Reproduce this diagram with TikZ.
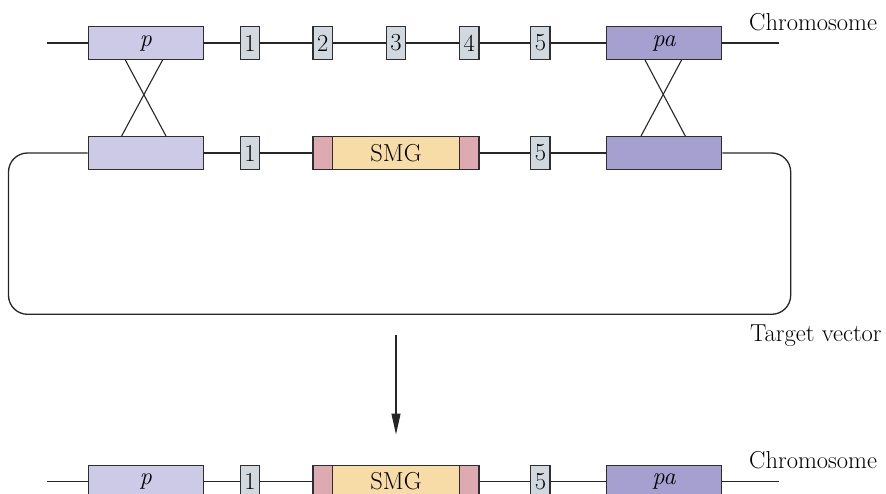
\documentclass[tikz,border=0pt]{standalone}
\usetikzlibrary{calc,arrows.meta}
\definecolor{plight}{HTML}{CCCAE6}
\definecolor{pdark}{HTML}{A6A0D0}
\definecolor{exonc}{HTML}{D1D9DF}
\definecolor{smgc}{HTML}{F7DCA7}
\definecolor{pinkc}{HTML}{DEAAB2}
\definecolor{edgec}{HTML}{2E2E2E}
\begin{document}
\begin{tikzpicture}[x=1pt,y=-1pt,
  every node/.style={font=\fontsize{24.5}{28}\selectfont},
  boxbase/.style={draw=edgec,line width=1.4pt,inner sep=0pt,minimum height=32.5pt},
  plbox/.style={boxbase,fill=plight,minimum width=115pt},
  pdbox/.style={boxbase,fill=pdark,minimum width=115pt},
  exonbox/.style={boxbase,fill=exonc,minimum width=19.5pt},
  smgbox/.style={boxbase,fill=smgc,minimum width=126.6pt},
  pinkbox/.style={boxbase,fill=pinkc,minimum width=19.8pt},
  dna/.style={draw=black!85,line width=1.3pt},
  cross/.style={draw=black!85,line width=1.1pt},
  lbl/.style={anchor=base west,inner sep=0pt}
]
\useasboundingbox (0,0) rectangle (886,494);
\clip (0,0) rectangle (886,494);

% ---------- top chromosome ----------
\coordinate (t0) at (47,43);
\coordinate (t9) at (779,43);
\node[plbox] (p1) at (145.8,43) {\textit{p}};
\node[exonbox] (e1) at (250,43) {1};
\node[exonbox] (e2) at (322.7,43) {2};
\node[exonbox] (e3) at (396,43) {3};
\node[exonbox] (e4) at (469.2,43) {4};
\node[exonbox] (e5) at (540.4,43) {5};
\node[pdbox] (pa1) at (664.2,43) {\textit{pa}};
\draw[dna] (t0) -- (p1) -- (e1) -- (e2) -- (e3) -- (e4) -- (e5) -- (pa1) -- (t9);
\node[lbl] (chr1) at (749,31) {Chromosome};

% ---------- target vector ----------
\node[plbox] (p2) at (145.8,153) {};
\node[exonbox] (v1) at (250,153) {1};
\node[pinkbox] (vk1) at (322.7,153) {};
\node[smgbox] (vs) at (396,153) {SMG};
\node[pinkbox] (vk2) at (469.2,153) {};
\node[exonbox] (v5) at (540.4,153) {5};
\node[pdbox] (pa2) at (664.2,153) {};
\coordinate (c1) at (8.5,153);
\coordinate (c2) at (8.5,314.3);
\coordinate (c3) at (790.7,314.3);
\coordinate (c4) at (790.7,153);
\draw[dna] (p2) -- (v1) -- (vk1);
\draw[dna] (vk2) -- (v5) -- (pa2);
\draw[dna,rounded corners=19pt] (p2.west) -- (c1) -- (c2) -- (c3) -- (c4) -- (pa2.east);
\node[lbl] (tv) at (750,341.7) {Target vector};

% ---------- crossovers ----------
\draw[cross] ($(p1.south west)+(37.7,0)$) -- ($(p2.north west)+(78.4,0)$);
\draw[cross] ($(p1.south west)+(75,0)$) -- ($(p2.north west)+(34,0)$);
\draw[cross] ($(pa1.south west)+(39,0)$) -- ($(pa2.north west)+(79.3,0)$);
\draw[cross] ($(pa1.south west)+(75.6,0)$) -- ($(pa2.north west)+(35,0)$);

% ---------- arrow ----------
\coordinate (a0) at (396,335);
\coordinate (a1) at (396,434.5);
\draw[draw=black!85,line width=1.3pt,-{Triangle[length=21pt,width=9pt]}] (a0) -- (a1);

% ---------- result chromosome ----------
\coordinate (b0) at (47,481.5);
\coordinate (b9) at (779,481.5);
\node[plbox] (p3) at (145.8,481.5) {\textit{p}};
\node[exonbox] (r1) at (250,481.5) {1};
\node[pinkbox] (rk1) at (322.7,481.5) {};
\node[smgbox] (rs) at (396,481.5) {SMG};
\node[pinkbox] (rk2) at (469.2,481.5) {};
\node[exonbox] (r5) at (540.4,481.5) {5};
\node[pdbox] (pa3) at (664.2,481.5) {\textit{pa}};
\draw[dna] (b0) -- (p3) -- (r1) -- (rk1);
\draw[dna] (rk2) -- (r5) -- (pa3) -- (b9);
\node[lbl] (chr2) at (749,468.3) {Chromosome};
\end{tikzpicture}
\end{document}
